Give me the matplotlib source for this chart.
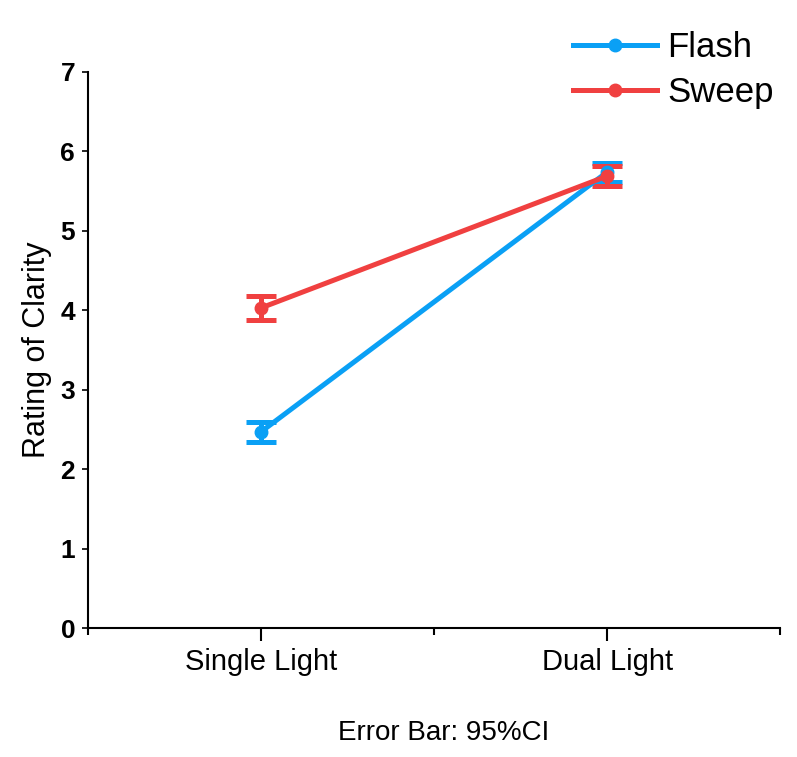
import matplotlib
matplotlib.use("Agg")
import matplotlib.pyplot as plt
from matplotlib.ticker import FixedLocator

plt.rcParams['font.family'] = ['Liberation Sans', 'DejaVu Sans']

conditions = ["Single Light", "Dual Light"]
flash_mean = [2.47, 5.74]
flash_ci = [0.13, 0.12]
sweep_mean = [4.03, 5.69]
sweep_ci = [0.15, 0.13]

blue = "#0aa0f5"
red = "#f04040"

fig = plt.figure(figsize=(7.97, 7.57), dpi=100)
ax = fig.add_axes([0.110, 0.170, 0.869, 0.735])

x = list(range(len(conditions)))
ax.errorbar(x, flash_mean, yerr=flash_ci, color=blue, lw=3.6, marker="o", ms=9,
            capsize=11, capthick=3.6, elinewidth=3.6, label="Flash")
ax.errorbar(x, sweep_mean, yerr=sweep_ci, color=red, lw=3.6, marker="o", ms=9,
            capsize=11, capthick=3.6, elinewidth=3.6, label="Sweep")

ax.set_xlim(-0.5, 1.5)
ax.set_ylim(0, 7)
ax.set_xticks(x)
ax.set_xticklabels(conditions, fontsize=21)
ax.xaxis.set_minor_locator(FixedLocator([-0.5, 0.5, 1.5]))
ax.tick_params(axis="x", which="major", length=9, width=1.5, pad=5)
ax.tick_params(axis="x", which="minor", length=5, width=1.5)
ax.set_yticks(range(8))
ax.tick_params(axis="y", length=4, width=1.2, labelsize=19, pad=5)
for lab in ax.get_yticklabels():
    lab.set_fontweight("bold")

for s in ["top", "right"]:
    ax.spines[s].set_visible(False)
for s in ["left", "bottom"]:
    ax.spines[s].set_linewidth(1.5)

ax.set_ylabel("Rating of Clarity", fontsize=22, labelpad=6)

h, l = ax.get_legend_handles_labels()
h = [hh[0] for hh in h]
fig.legend(h, l, loc="upper right", bbox_to_anchor=(1.01, 1.0), frameon=False,
           fontsize=25, handlelength=2.4, handletextpad=0.3, labelspacing=0.35)

fig.text(0.556, 0.032, "Error Bar: 95%CI", fontsize=20, ha="center", va="center")

fig.savefig("out.png", dpi=100)
